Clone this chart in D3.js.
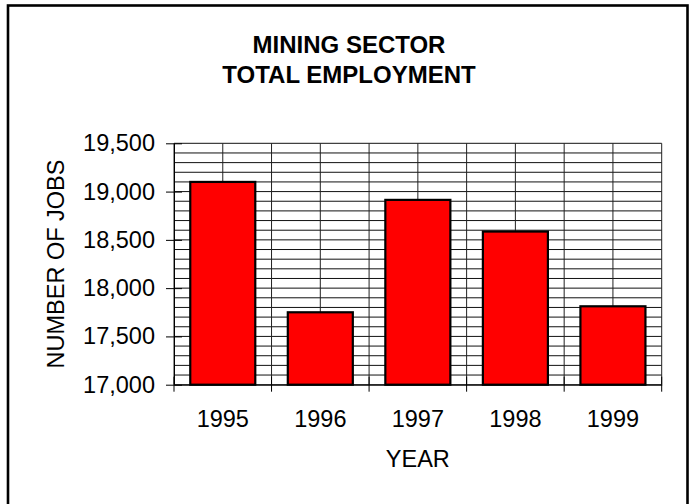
<!DOCTYPE html>
<html>
<head>
<meta charset="utf-8">
<script src="https://cdn.jsdelivr.net/npm/d3@7"></script>
<style>
  html, body { margin: 0; padding: 0; background: #fff; }
  svg { display: block; }
  text { font-family: "Liberation Sans", Arial, sans-serif; fill: #000; }
</style>
</head>
<body>
<svg id="chart" width="689" height="504"></svg>
<script>
const years = ["1995", "1996", "1997", "1998", "1999"];
const jobs = [19100, 17750, 18914, 18586, 17812];
const yTickValues = [17000, 17500, 18000, 18500, 19000, 19500];
const titleLines = ["MINING SECTOR", "TOTAL EMPLOYMENT"];
const xTitle = "YEAR";
const yTitle = "NUMBER OF JOBS";

const svg = d3.select("#chart");
const plot = { left: 174, right: 661.7, top: 143.3, bottom: 384.7 };

// outer frame
svg.append("rect")
  .attr("x", 8).attr("y", 5.5)
  .attr("width", 679.5).attr("height", 600)
  .attr("fill", "#fff").attr("stroke", "#000").attr("stroke-width", 2.6);

const x = d3.scaleBand().domain(years).range([plot.left, plot.right]).padding(0);
const y = d3.scaleLinear().domain([17000, 19500]).range([plot.bottom, plot.top]);
const bw = x.bandwidth();

// horizontal grid (every 100)
const g = svg.append("g");
g.selectAll("line.h").data(d3.range(17000, 19501, 100)).join("line")
  .attr("class", "h")
  .attr("x1", plot.left).attr("x2", plot.right)
  .attr("y1", d => y(d)).attr("y2", d => y(d))
  .attr("stroke", "#111").attr("stroke-width", 1);

// vertical grid (category boundaries and centers)
const vPos = [];
years.forEach(d => { vPos.push(x(d)); vPos.push(x(d) + bw / 2); });
vPos.push(x(years[years.length - 1]) + bw);
g.selectAll("line.v").data(vPos).join("line")
  .attr("class", "v")
  .attr("x1", d => d).attr("x2", d => d)
  .attr("y1", plot.top).attr("y2", plot.bottom)
  .attr("stroke", "#222").attr("stroke-width", 1);

// bars
svg.append("g").selectAll("rect").data(years).join("rect")
  .attr("x", d => x(d) + bw / 6)
  .attr("width", bw * 2 / 3)
  .attr("y", (d, i) => y(jobs[i]))
  .attr("height", (d, i) => y(17000) - y(jobs[i]))
  .attr("fill", "#ff0000")
  .attr("stroke", "#000")
  .attr("stroke-width", 2.2);

// y axis
const yAxis = svg.append("g")
  .attr("transform", `translate(${plot.left},0)`)
  .call(d3.axisLeft(y).tickValues(yTickValues).tickFormat(d3.format(","))
    .tickSize(8).tickSizeOuter(0).tickPadding(11));
yAxis.selectAll(".tick line").attr("x1", 8).attr("stroke", "#000");
yAxis.select(".domain").attr("stroke", "#000");
yAxis.selectAll("text").style("font-size", "23.5px");

// x axis
const xAxis = svg.append("g")
  .attr("transform", `translate(0,${plot.bottom})`)
  .call(d3.axisBottom(x).tickSize(0).tickSizeOuter(0).tickPadding(26));
xAxis.select(".domain").attr("stroke", "#000");
xAxis.selectAll("text").style("font-size", "23.5px");
const bPos = years.map(d => x(d)).concat([x(years[years.length - 1]) + bw]);
xAxis.selectAll("line.cross").data(bPos).join("line")
  .attr("class", "cross")
  .attr("x1", d => d).attr("x2", d => d)
  .attr("y1", -8).attr("y2", 7)
  .attr("stroke", "#000");

// title
svg.append("g").selectAll("text").data(titleLines).join("text")
  .attr("x", 349).attr("y", (d, i) => 53.3 + i * 30)
  .attr("text-anchor", "middle")
  .style("font-size", "24px").style("font-weight", "bold")
  .text(d => d);

// axis titles
svg.append("text")
  .attr("x", (plot.left + plot.right) / 2).attr("y", 467.3)
  .attr("text-anchor", "middle").style("font-size", "23.5px")
  .text(xTitle);
svg.append("text")
  .attr("transform", `translate(63.5,${(plot.top + plot.bottom) / 2}) rotate(-90)`)
  .attr("text-anchor", "middle").style("font-size", "23.5px")
  .text(yTitle);
</script>
</body>
</html>
